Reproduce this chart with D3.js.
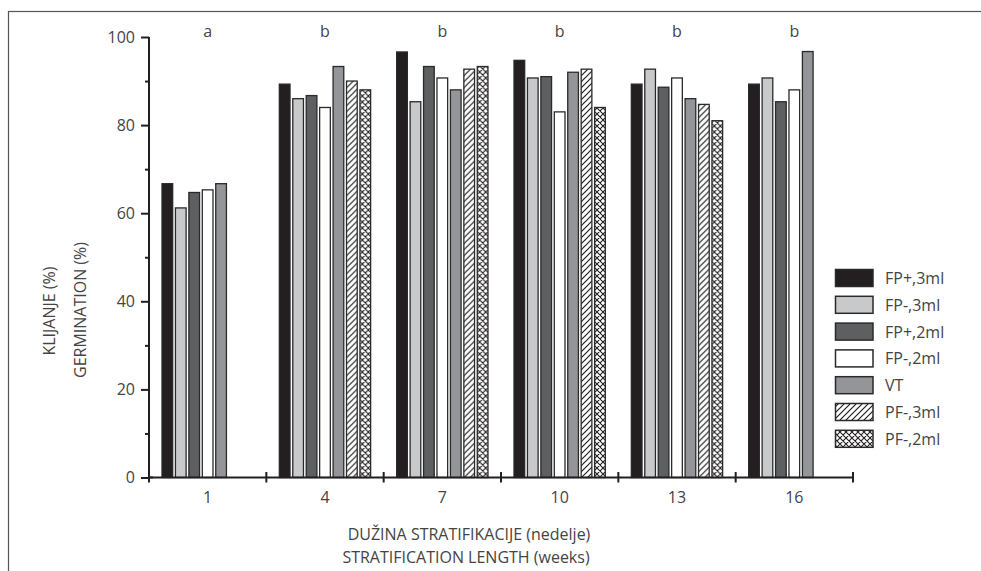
<!DOCTYPE html>
<html><head><meta charset="utf-8">
<script src="https://cdn.jsdelivr.net/npm/d3@7"></script>
<style>
html,body{margin:0;padding:0;background:#fff;}
svg{display:block;font-family:"Open Sans",sans-serif;}
</style></head>
<body>
<svg id="chart" width="981" height="571"></svg>
<script>
const weeks = ["1","4","7","10","13","16"];
const letters = ["a","b","b","b","b","b"];
const seriesNames = ["FP+,3ml","FP-,3ml","FP+,2ml","FP-,2ml","VT","PF-,3ml","PF-,2ml"];
const fp3plus  = [66.7, 89.3, 96.6, 94.7, 89.3, 89.3];
const fp3minus = [61.2, 86.0, 85.3, 90.7, 92.7, 90.7];
const fp2plus  = [64.7, 86.7, 93.3, 91.0, 88.6, 85.3];
const fp2minus = [65.3, 84.0, 90.7, 83.0, 90.7, 88.0];
const vt       = [66.7, 93.3, 88.0, 92.0, 86.0, 96.7];
const pf3minus = [null, 90.0, 92.7, 92.7, 84.7, null];
const pf2minus = [null, 88.0, 93.3, 84.0, 81.0, null];
const yTicks = [0,20,40,60,80,100];
const yMinorTicks = [10,30,50,70,90];

const seriesValues = [fp3plus, fp3minus, fp2plus, fp2minus, vt, pf3minus, pf2minus];
const fills = ["#231f20","#c8c9cb","#5e5f61","#ffffff","#939598","url(#hatch)","url(#cross)"];

const svg = d3.select("#chart");
const ink = "#231f20";
const textCol = "#444";

// frame
svg.append("rect").attr("x",8.5).attr("y",11.5).attr("width",1000).attr("height",600)
  .attr("fill","none").attr("stroke","#555").attr("stroke-width",1.2);

// patterns
const defs = svg.append("defs");
const h = defs.append("pattern").attr("id","hatch").attr("patternUnits","userSpaceOnUse")
  .attr("width",6).attr("height",6);
h.append("rect").attr("width",6).attr("height",6).attr("fill","#fff");
h.append("path").attr("d","M-1,7 L7,-1 M-1,1 L1,-1 M5,7 L7,5").attr("stroke",ink).attr("stroke-width",1.2);
const c = defs.append("pattern").attr("id","cross").attr("patternUnits","userSpaceOnUse")
  .attr("width",6).attr("height",6);
c.append("rect").attr("width",6).attr("height",6).attr("fill","#fff");
c.append("path").attr("d","M-1,7 L7,-1 M-1,1 L1,-1 M5,7 L7,5 M-1,-1 L7,7 M-1,5 L1,7 M5,-1 L7,1")
  .attr("stroke",ink).attr("stroke-width",1.1);

const x0 = d3.scaleBand().domain(weeks).range([149, 853]).padding(0);
const x1 = d3.scaleBand().domain(seriesNames).range([12.5, 104.8]).paddingInner(0.13).paddingOuter(0);
const y = d3.scaleLinear().domain([0,100]).range([477.5, 37]);

// bars
weeks.forEach((w, gi) => {
  const g = svg.append("g").attr("transform", `translate(${x0(w)},0)`);
  seriesNames.forEach((s, si) => {
    const v = seriesValues[si][gi];
    if (v == null) return;
    g.append("rect")
      .attr("x", x1(s)+0.5).attr("y", y(v))
      .attr("width", x1.bandwidth()-1).attr("height", y(0)-y(v))
      .attr("fill", fills[si]).attr("stroke", "#2a2a2a").attr("stroke-width", 1.3);
  });
  svg.append("text").attr("x", x0(w)+x0.bandwidth()/2).attr("y", 36.5)
    .attr("text-anchor","middle").attr("font-size",16).attr("fill",textCol).text(letters[gi]);
});

// y axis
const yAxis = svg.append("g").attr("transform","translate(149,0)")
  .call(d3.axisLeft(y).tickValues(yTicks).tickSize(8).tickPadding(6).tickFormat(d3.format("d")));
yAxis.select(".domain").attr("stroke",ink).attr("stroke-width",2).attr("d","M0,37V478");
yAxis.selectAll(".tick line").attr("stroke",ink).attr("stroke-width",2);
yAxis.selectAll(".tick text").attr("font-size",16).attr("fill",textCol).attr("font-family","Open Sans");
const yMinor = svg.append("g").attr("transform","translate(149,0)")
  .call(d3.axisLeft(y).tickValues(yMinorTicks).tickSize(4).tickFormat(""));
yMinor.select(".domain").remove();
yMinor.selectAll(".tick line").attr("stroke",ink).attr("stroke-width",2);
svg.append("line").attr("x1",149).attr("x2",153).attr("y1",y(0)).attr("y2",y(0))
  .attr("stroke",ink).attr("stroke-width",2);

// x axis
const boundaries = weeks.map(w => x0(w)).concat([x0.range()[1]]);
svg.append("line").attr("x1",149).attr("x2",853).attr("y1",y(0)).attr("y2",y(0))
  .attr("stroke",ink).attr("stroke-width",2.2);
svg.selectAll(".xb").data(boundaries).enter().append("line")
  .attr("x1",d=>d).attr("x2",d=>d).attr("y1",y(0)-5.5).attr("y2",y(0)+5)
  .attr("stroke",ink).attr("stroke-width",2);
svg.selectAll(".xl").data(weeks).enter().append("text")
  .attr("x",d=>x0(d)+x0.bandwidth()/2).attr("y",503)
  .attr("text-anchor","middle").attr("font-size",16).attr("fill",textCol).text(d=>d);

// axis titles
svg.append("text").attr("x",469).attr("y",540).attr("text-anchor","middle")
  .attr("font-size",16).attr("fill",textCol).text("DUŽINA STRATIFIKACIJE (nedelje)");
svg.append("text").attr("x",466).attr("y",563).attr("text-anchor","middle")
  .attr("font-size",16).attr("fill",textCol).text("STRATIFICATION LENGTH (weeks)");
svg.append("text").attr("transform","translate(55,311) rotate(-90)").attr("text-anchor","middle")
  .attr("font-size",16).attr("fill",textCol).text("KLIJANJE (%)");
svg.append("text").attr("transform","translate(86,310) rotate(-90)").attr("text-anchor","middle")
  .attr("font-size",16).attr("fill",textCol).text("GERMINATION (%)");

// legend
const leg = svg.append("g");
seriesNames.forEach((s, i) => {
  const cy = 278 + i*26.8;
  leg.append("rect").attr("x",835.5).attr("y",cy-8.5).attr("width",37.5).attr("height",17)
    .attr("fill",fills[i]).attr("stroke","#2a2a2a").attr("stroke-width",1.5);
  leg.append("text").attr("x",885).attr("y",cy+6).attr("font-size",16).attr("fill",textCol).text(s);
});
</script>
</body></html>
